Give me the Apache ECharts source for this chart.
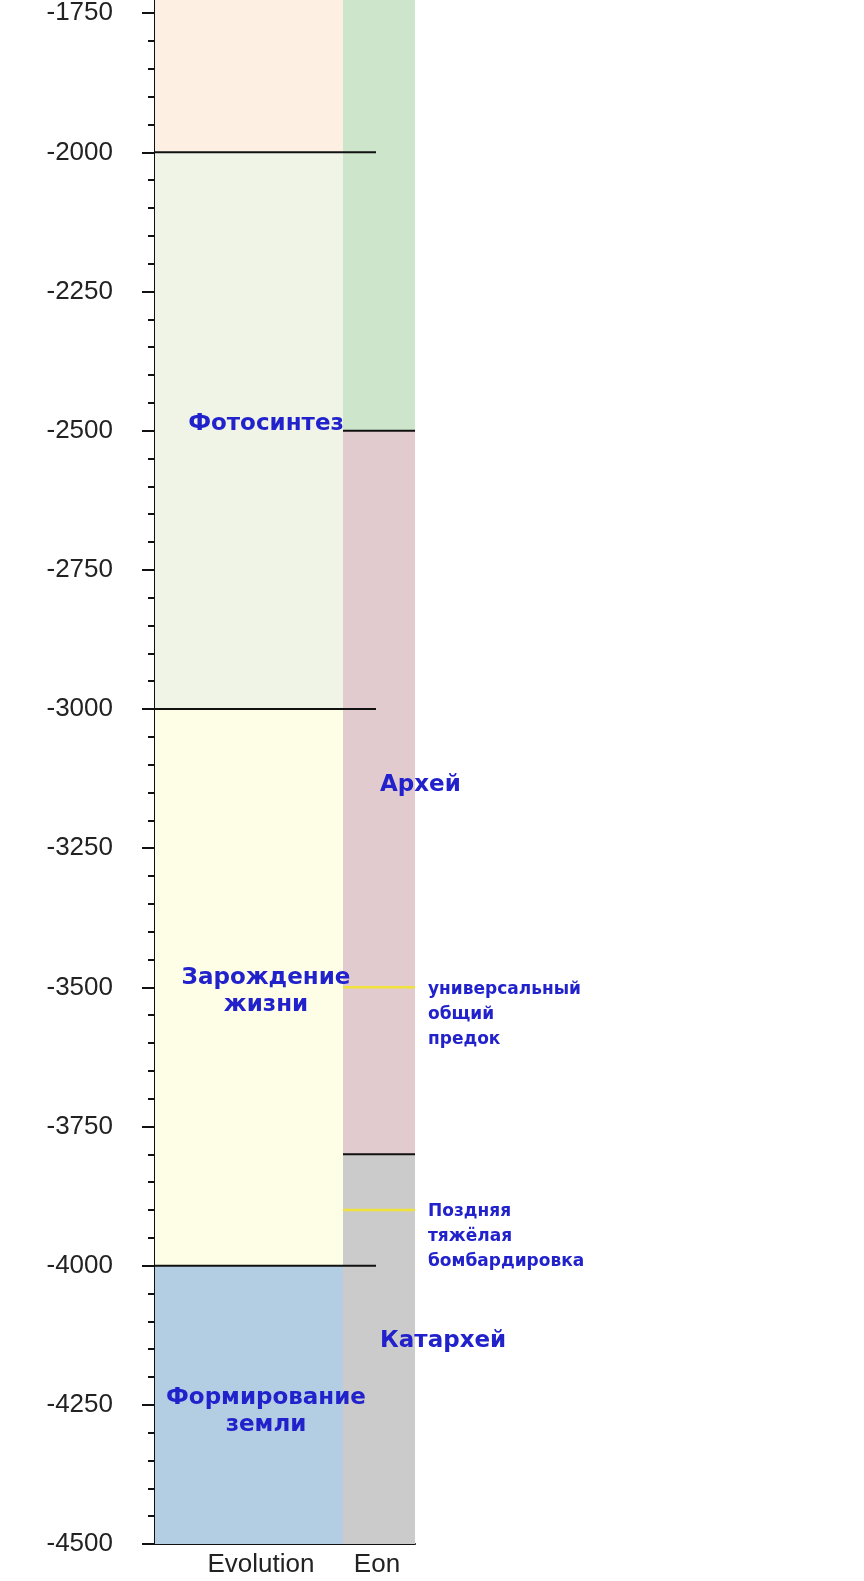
<!DOCTYPE html>
<html>
<head>
<meta charset="utf-8">
<script src="https://cdn.jsdelivr.net/npm/echarts@6/dist/echarts.min.js"></script>
<style>
  html, body { margin: 0; padding: 0; background: #ffffff; }
  #chart { width: 864px; height: 1581px; }
</style>
</head>
<body>
<div id="chart"></div>
<script>
// ---- data ----
const columnNames = ['Evolution', 'Eon'];
const evolutionBands = [[-1500, -2000], [-2000, -3000], [-3000, -4000], [-4000, -4500]];
const evolutionColors = ['#fdf0e3', '#f0f4e6', '#fefee7', '#b3cde3'];
const eonBands = [[-1500, -2500], [-2500, -3800], [-3800, -4500]];
const eonColors = ['#cde5cb', '#e2cbce', '#cbcbcb'];
const evolutionBoundaries = [-2000, -3000, -4000];
const eonBoundaries = [-2500, -3800];
const eventValues = [-3500, -3900];
const eventLabels = ['универсальный\nобщий\nпредок', 'Поздняя\nтяжёлая\nбомбардировка'];
const evolutionLabels = ['Фотосинтез', 'Зарождение\nжизни', 'Формирование\nземли'];
const evolutionLabelValues = [-2480, -3500, -4255];
const eonLabels = ['Архей', 'Катархей'];
const eonLabelValues = [-3130, -4128];
const yMin = -4500, yMax = -1500, yInterval = 250;

// ---- layout (x in pixel-like units inside the grid) ----
const X_MAX = 260;
const COLS = [[0, 188], [188, 260]];
const COL_LABEL_X = [106, 222];
const EVO_LINE_END = 221;
const EVO_LABEL_X = 111;
const EON_LABEL_X = 225;
const EVENT_LABEL_X = 273;
const BLUE = '#2222cc';

const chart = echarts.init(document.getElementById('chart'), null, { renderer: 'canvas' });

const bandData = [];
evolutionBands.forEach((b, i) => bandData.push([0, b[0], b[1], evolutionColors[i]]));
eonBands.forEach((b, i) => bandData.push([1, b[0], b[1], eonColors[i]]));

const lineData = [];
evolutionBoundaries.forEach(v => lineData.push([COLS[0][0], EVO_LINE_END, v, '#111111', 2]));
eonBoundaries.forEach(v => lineData.push([COLS[1][0], COLS[1][1], v, '#111111', 2]));
eventValues.forEach(v => lineData.push([COLS[1][0], COLS[1][1], v, '#f0e23a', 2.5]));

const MAIN_FONT = 'bold 23px "DejaVu Sans"';
const SMALL_FONT = 'bold 17px "DejaVu Sans"';
const textData = [];
evolutionLabels.forEach((t, i) => textData.push([EVO_LABEL_X, evolutionLabelValues[i], t, 'center', 'middle', MAIN_FONT, 27, 4]));
eonLabels.forEach((t, i) => textData.push([EON_LABEL_X, eonLabelValues[i], t, 'left', 'middle', MAIN_FONT, 27, 4]));
eventLabels.forEach((t, i) => textData.push([EVENT_LABEL_X, eventValues[i], t, 'left', 'first', SMALL_FONT, 25, 2]));

const option = {
  animation: false,
  backgroundColor: '#ffffff',
  grid: { left: 155, right: 449, top: -126, bottom: 37, containLabel: false, outerBoundsMode: 'none' },
  xAxis: {
    type: 'value', min: 0, max: X_MAX,
    axisLine: { show: true, lineStyle: { color: '#111', width: 2 } },
    axisTick: { show: false },
    splitLine: { show: false },
    axisLabel: {
      customValues: COL_LABEL_X,
      formatter: v => columnNames[COL_LABEL_X.indexOf(v)] || '',
      color: '#222', fontSize: 26, fontFamily: '"Liberation Sans"', margin: 8
    }
  },
  yAxis: {
    type: 'value', min: yMin, max: yMax, interval: yInterval,
    axisLine: { show: true, lineStyle: { color: '#111', width: 2 } },
    axisTick: { show: true, length: 13, lineStyle: { color: '#111', width: 2 } },
    minorTick: { show: true, splitNumber: 5, length: 7, lineStyle: { color: '#111', width: 2 } },
    splitLine: { show: false },
    axisLabel: {
      color: '#222', fontSize: 26, fontFamily: '"Liberation Sans"', margin: 42,
      formatter: v => String(v)
    }
  },
  series: [
    {
      type: 'custom', z: 1, clip: false,
      data: bandData,
      renderItem: (params, api) => {
        const c = api.value(0);
        const p0 = api.coord([COLS[c][0], api.value(1)]);
        const p1 = api.coord([COLS[c][1], api.value(2)]);
        return {
          type: 'rect',
          shape: { x: p0[0], y: p0[1], width: p1[0] - p0[0], height: p1[1] - p0[1] },
          style: { fill: bandData[params.dataIndex][3] }
        };
      }
    },
    {
      type: 'custom', z: 2, clip: false,
      data: lineData,
      renderItem: (params, api) => {
        const d = lineData[params.dataIndex];
        const p0 = api.coord([d[0], d[2]]);
        const p1 = api.coord([d[1], d[2]]);
        return {
          type: 'line',
          shape: { x1: p0[0], y1: p0[1], x2: p1[0], y2: p1[1] },
          style: { stroke: d[3], lineWidth: d[4] }
        };
      }
    },
    {
      type: 'custom', z: 3, clip: false,
      data: textData,
      renderItem: (params, api) => {
        const d = textData[params.dataIndex];
        const p = api.coord([d[0], d[1]]);
        let y = p[1] + d[7];
        let va = d[4];
        if (va === 'first') { y = y - d[6] / 2; va = 'top'; }
        return {
          type: 'text',
          style: {
            x: p[0], y: y, text: d[2], fill: BLUE, font: d[5],
            align: d[3], verticalAlign: va, lineHeight: d[6]
          }
        };
      }
    }
  ]
};
chart.setOption(option);
</script>
</body>
</html>
